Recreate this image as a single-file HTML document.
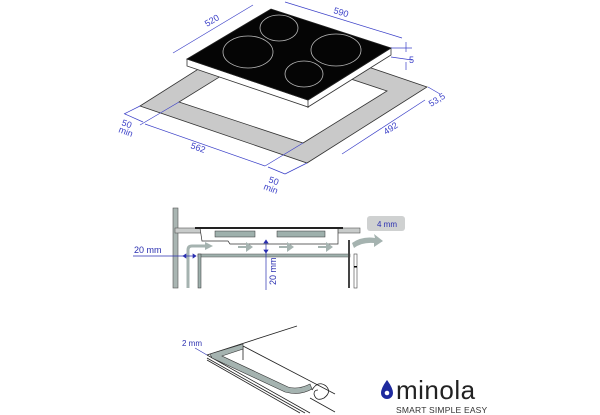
<!DOCTYPE html>
<html><head><meta charset="utf-8"><style>
html,body{margin:0;padding:0;background:#fff;}
svg{display:block;}
text{font-family:"Liberation Sans",sans-serif;}
</style></head><body>
<svg width="600" height="415" viewBox="0 0 600 415" xmlns="http://www.w3.org/2000/svg">
<!-- cutout frame -->
<path d="M140,106 L260,30 L427,87 L307,163 Z M179,102 L303,143 L387,91 L263,50 Z" fill="#c9c9c9" fill-rule="evenodd" stroke="#333" stroke-width="0.8"/>
<!-- hob sides -->
<path d="M187,59 L308,100 L391,48 L391,55 L308,107 L187,66 Z" fill="#fff" stroke="#333" stroke-width="0.8"/>
<line x1="308" y1="100" x2="308" y2="108" stroke="#333" stroke-width="0.8"/>
<!-- hob top -->
<path d="M187,59 L271,9 L391,48 L308,100 Z" fill="#050505" stroke="#222" stroke-width="0.8"/>
<g fill="none" stroke="#bbb" stroke-width="0.8">
<ellipse cx="248" cy="52" rx="25" ry="16"/>
<ellipse cx="279" cy="28" rx="19" ry="13"/>
<ellipse cx="336" cy="50" rx="25" ry="16"/>
<ellipse cx="304" cy="74" rx="19" ry="13"/>
</g>
<!-- dimensions -->
<g stroke="#3b40c8" stroke-width="0.7" fill="none">
<line x1="173" y1="53" x2="253" y2="5"/>
<line x1="285" y1="2" x2="402" y2="38"/>
<line x1="406" y1="42" x2="406" y2="52"/><line x1="406" y1="62" x2="406" y2="70"/>
<line x1="391" y1="48" x2="412" y2="48"/><line x1="391" y1="57" x2="412" y2="60"/>
<line x1="428" y1="87" x2="440" y2="94"/>
<line x1="425" y1="100" x2="342" y2="154"/>
<line x1="145" y1="124" x2="265" y2="166"/>
<line x1="125" y1="114" x2="143" y2="122"/>
<line x1="268" y1="167" x2="285" y2="174"/>
<line x1="140" y1="106" x2="124" y2="114"/>
<line x1="179" y1="102" x2="140" y2="125"/>
<line x1="307" y1="163" x2="285" y2="174"/>
<line x1="303" y1="143" x2="265" y2="166"/>
</g>
<g fill="#3b40c8" font-size="9">
<text transform="translate(207,27) rotate(-31)">520</text>
<text transform="translate(333,13) rotate(17)">590</text>
<text x="409" y="63">5</text>
<text transform="translate(431,107) rotate(-32)">53,5</text>
<text transform="translate(386,135) rotate(-33)">492</text>
<text transform="translate(190,148) rotate(20)">562</text>
<text transform="translate(121,125) rotate(20)">50</text>
<text transform="translate(118,132) rotate(20)">min</text>
<text transform="translate(268,182) rotate(20)">50</text>
<text transform="translate(263,189) rotate(20)">min</text>
</g>
<!-- section -->
<rect x="173" y="208" width="5" height="80" fill="#a9b5b2" stroke="#555" stroke-width="0.6"/>
<rect x="175" y="228" width="185" height="5" fill="#c8cbca" stroke="#555" stroke-width="0.6"/>
<path d="M200,228 L338,228 L338,244 L230,244 L228,241 L202,241 Z" fill="#fff" stroke="#333" stroke-width="0.7"/>
<rect x="195" y="227" width="148" height="2" fill="#222"/>
<rect x="215" y="231" width="40" height="6" fill="#9eb0ac" stroke="#333" stroke-width="0.5"/>
<rect x="277" y="231" width="48" height="6" fill="#9eb0ac" stroke="#333" stroke-width="0.5"/>
<rect x="198" y="254" width="152" height="3" fill="#9eb0ac" stroke="#555" stroke-width="0.5"/>
<rect x="198" y="254" width="3" height="34" fill="#9eb0ac" stroke="#333" stroke-width="0.5"/>
<rect x="348" y="240" width="2" height="48" fill="#444"/>
<rect x="354" y="254" width="3" height="34" fill="#fff" stroke="#444" stroke-width="0.6"/>
<rect x="354" y="266" width="3" height="1.5" fill="#000"/>
<path d="M188,288 L188,250 Q188,246 192,246 L208,246" fill="none" stroke="#a5b3b0" stroke-width="3"/>
<g fill="#a5b3b0">
<path d="M205,242 L213,246 L205,250 Z"/>
<path d="M238,246 h8 v-4 l7,5 l-7,5 v-4 h-8 Z"/>
<path d="M279,246 h8 v-4 l7,5 l-7,5 v-4 h-8 Z"/>
<path d="M318,246 h8 v-4 l7,5 l-7,5 v-4 h-8 Z"/>
<path d="M352,243 Q362,236 375,238 L374,234 L383,241 L374,247 L374,243 Q362,242 354,248 Z"/>
</g>
<rect x="367" y="216" width="38" height="15" rx="3" fill="#cfd1d1"/>
<text x="377" y="227" font-size="8" fill="#2a2fb0">4 mm</text>
<g stroke="#2a2fb0" stroke-width="0.7" fill="#2a2fb0">
<line x1="133" y1="256" x2="196" y2="256"/>
<line x1="266" y1="240" x2="266" y2="290"/>
<path d="M264,243 L266,240 L268,243 Z"/><path d="M264,250 L266,253 L268,250 Z"/>
<path d="M186,254 L183,256 L186,258 Z"/><path d="M193,254 L196,256 L193,258 Z"/>
</g>
<text x="134" y="253" font-size="9" fill="#2a2fb0">20 mm</text>
<text transform="translate(276,285) rotate(-90)" font-size="9" fill="#2a2fb0">20 mm</text>
<!-- seal -->
<g fill="none" stroke="#222" stroke-width="0.8">
<line x1="207" y1="355" x2="297" y2="326"/>
<line x1="207" y1="355" x2="310" y2="413"/>
<line x1="207" y1="358" x2="305" y2="413"/>
<line x1="207" y1="360" x2="300" y2="413"/>
<line x1="243" y1="346" x2="335" y2="394"/>
<line x1="243" y1="346" x2="243" y2="360"/>
<line x1="310" y1="398" x2="335" y2="412"/>
<path d="M312,390 q6,-10 14,-4 q6,6 -2,12 q-8,4 -10,-4 q0,-4 4,-4"/>
</g>
<path d="M210,354 L243,344 L243,349 L222,356 L288,387 Q298,390 310,384 L312,389 Q300,396 285,392 L212,358 Z" fill="#a5b3b0" stroke="#333" stroke-width="0.6"/>
<text x="182" y="346" font-size="8" fill="#2a2fb0">2 mm</text>
<line x1="195" y1="348" x2="207" y2="355" stroke="#2a2fb0" stroke-width="0.6"/>
<!-- logo -->
<path d="M387,380 Q393,388 393,393 A6,6 0 0 1 381,393 Q381,388 387,380 Z" fill="#1e2a9e"/>
<circle cx="387" cy="393" r="2.3" fill="#fff"/>
<text x="396" y="399" font-size="26" fill="#222" letter-spacing="0.5">minola</text>
<text x="396" y="413" font-size="8.5" fill="#333" letter-spacing="0.2">SMART SIMPLE EASY</text>
</svg>
</body></html>
